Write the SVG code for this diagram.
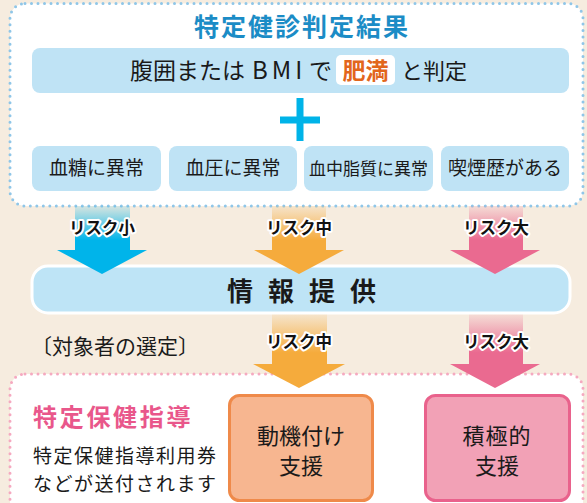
<svg xmlns="http://www.w3.org/2000/svg" width="587" height="503" viewBox="0 0 587 503">
<defs>
<style>
text{font-family:"Noto Sans CJK JP","Noto Sans",sans-serif;fill:#1a1a1a}
.b{font-weight:bold}
.chip{fill:#bfe3f5}
.c{text-anchor:middle}
.lbl{font-weight:bold;font-size:16.5px;text-anchor:middle;stroke:#fff;stroke-width:4px;stroke-linejoin:round;paint-order:stroke;fill:#111}
</style>
<linearGradient id="gB" x1="0" y1="0" x2="0" y2="1"><stop offset="0" stop-color="#00b4ea" stop-opacity="0.12"/><stop offset="0.75" stop-color="#00b4ea"/></linearGradient>
<linearGradient id="gO" x1="0" y1="0" x2="0" y2="1"><stop offset="0" stop-color="#f5ab3c" stop-opacity="0.12"/><stop offset="0.75" stop-color="#f5ab3c"/></linearGradient>
<linearGradient id="gP" x1="0" y1="0" x2="0" y2="1"><stop offset="0" stop-color="#ea6a90" stop-opacity="0.12"/><stop offset="0.75" stop-color="#ea6a90"/></linearGradient>
</defs>
<rect width="587" height="503" fill="#f6ecdf"/>

<g id="panel-top">
<rect x="10" y="3.5" width="573" height="202.5" rx="15" fill="#fff" stroke="#8fc6e8" stroke-width="3" stroke-dasharray="0 6.5" stroke-linecap="round"/>
<text class="b c" x="302" y="36" font-size="25" letter-spacing="2" style="fill:#1b8cc6">特定健診判定結果</text>
</g>

<g id="node-obesity">
<rect class="chip" x="32" y="48" width="537" height="45" rx="8"/>
<text x="130" y="79" font-size="23">腹囲または</text>
<text x="252" y="79" font-size="24" letter-spacing="4">BMI</text>
<text x="309" y="79" font-size="23">で</text>
<rect x="336" y="55" width="59" height="30" rx="5" fill="#fff"/>
<text class="b c" x="365.5" y="79" font-size="23" style="fill:#e2661c">肥満</text>
<text x="401" y="79" font-size="22">と判定</text>
</g>

<g id="plus">
<rect x="280" y="116.5" width="40" height="7" fill="#00b3e8"/>
<rect x="296.5" y="98" width="7" height="43" fill="#00b3e8"/>
</g>

<g id="node-sugar"><rect class="chip" x="32" y="146" width="129" height="45" rx="8"/><text class="c" x="96.5" y="175" font-size="19">血糖に異常</text></g>
<g id="node-pressure"><rect class="chip" x="169" y="146" width="128" height="45" rx="8"/><text class="c" x="233" y="175" font-size="19">血圧に異常</text></g>
<g id="node-lipid"><rect class="chip" x="304" y="146" width="129" height="45" rx="8"/><text class="c" x="368.5" y="175" font-size="17">血中脂質に異常</text></g>
<g id="node-smoke"><rect class="chip" x="441" y="146" width="128" height="45" rx="8"/><text class="c" x="505" y="175" font-size="19">喫煙歴がある</text></g>

<g id="panel-bottom">
<rect x="10" y="374" width="573" height="170" rx="15" fill="#fff" stroke="#f5a9c0" stroke-width="3" stroke-dasharray="0 6.5" stroke-linecap="round"/>
<text class="b" x="33" y="426" font-size="24" letter-spacing="2.7" style="fill:#e9578b">特定保健指導</text>
<text x="33" y="463" font-size="19" letter-spacing="1.5">特定保健指導利用券</text>
<text x="33" y="491" font-size="19" letter-spacing="1.5">などが送付されます</text>
</g>

<g id="node-info">
<rect x="32" y="266" width="538" height="47" rx="16" fill="#bee4f6" stroke="#fff" stroke-width="3"/>
<text class="b" x="227" y="301" font-size="26" letter-spacing="15">情報提供</text>
</g>

<text id="selection-label" x="31" y="354" font-size="21">〔対象者の選定〕</text>

<g id="connectors">
<rect x="75" y="206" width="55" height="46" fill="url(#gB)"/>
<polygon points="57,250 147,250 102,274" fill="#00b4ea"/>
<rect x="272" y="206" width="54" height="46" fill="url(#gO)"/>
<polygon points="254,250 344,250 299,274" fill="#f5ab3c"/>
<rect x="469" y="206" width="54" height="46" fill="url(#gP)"/>
<polygon points="450,250 540,250 495,274" fill="#ea6a90"/>
<rect x="272" y="314.5" width="55" height="51" fill="url(#gO)"/>
<polygon points="253,364 345,364 299,388" fill="#f5ab3c"/>
<rect x="469" y="314.5" width="54" height="51" fill="url(#gP)"/>
<polygon points="450,364 540,364 495,388" fill="#ea6a90"/>
<text class="lbl" x="102" y="234">リスク小</text>
<text class="lbl" x="299" y="234">リスク中</text>
<text class="lbl" x="496" y="234">リスク大</text>
<text class="lbl" x="299" y="348">リスク中</text>
<text class="lbl" x="496" y="348">リスク大</text>
</g>

<g id="node-motivation">
<rect x="229.5" y="395.5" width="143" height="105" rx="10" fill="#f7b690" stroke="#ef8a4a" stroke-width="3"/>
<text class="c" x="301" y="444" font-size="22">動機付け</text>
<text class="c" x="301" y="474" font-size="22">支援</text>
</g>

<g id="node-active">
<rect x="425.5" y="395.5" width="144" height="105" rx="10" fill="#f2a1b6" stroke="#e9628c" stroke-width="3"/>
<text class="c" x="497" y="444" font-size="22" letter-spacing="1">積極的</text>
<text class="c" x="497" y="474" font-size="22">支援</text>
</g>
</svg>
